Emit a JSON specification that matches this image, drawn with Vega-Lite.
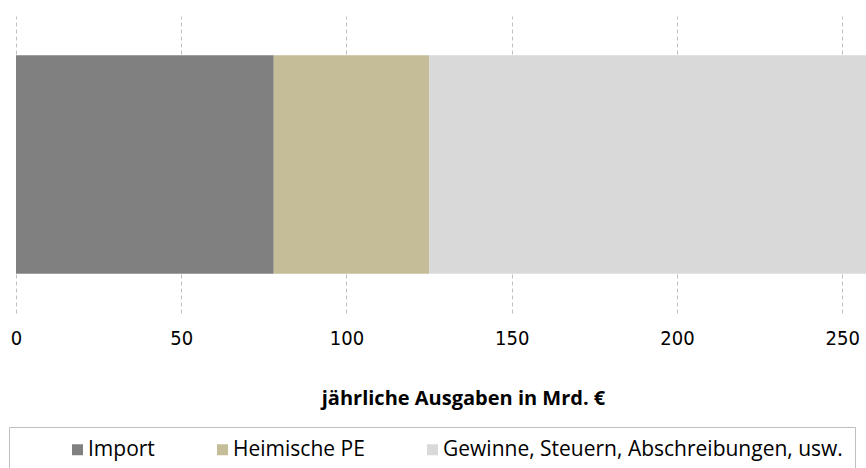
{
  "$schema": "https://vega.github.io/schema/vega-lite/v6.json",
  "width": 850,
  "height": 297,
  "autosize": "none",
  "padding": {"left": 16, "top": 16, "right": 0, "bottom": 155},
  "config": {"view": {"stroke": null}, "font": "Open Sans"},
  "data": {
    "values": [
      {"kategorie": "Ausgaben", "typ": "Import", "wert": 78, "ord": 1},
      {"kategorie": "Ausgaben", "typ": "Heimische PE", "wert": 47, "ord": 2},
      {"kategorie": "Ausgaben", "typ": "Gewinne, Steuern, Abschreibungen, usw.", "wert": 135, "ord": 3}
    ]
  },
  "mark": {"type": "bar", "clip": true},
  "encoding": {
    "y": {"field": "kategorie", "type": "nominal", "axis": null, "scale": {"paddingInner": 0, "paddingOuter": 0.18}},
    "x": {
      "field": "wert",
      "type": "quantitative",
      "stack": "zero",
      "scale": {"domain": [0, 257.2], "nice": false},
      "axis": {
        "title": "jährliche Ausgaben in Mrd. €",
        "values": [0, 50, 100, 150, 200, 250],
        "domain": false,
        "ticks": false,
        "grid": true,
        "gridDash": [4, 3],
        "gridColor": "#bfbfbf",
        "labelFont": "DejaVu Sans Condensed, Open Sans",
        "labelFontSize": 20,
        "labelColor": "#000000",
        "labelPadding": 15,
        "labelFlush": false,
        "titleFontSize": 20,
        "titleFontWeight": "bold",
        "titleColor": "#000000",
        "titlePadding": 40,
        "titleX": 447
      }
    },
    "color": {
      "field": "typ",
      "type": "nominal",
      "scale": {
        "domain": ["Import", "Heimische PE", "Gewinne, Steuern, Abschreibungen, usw."],
        "range": ["#808080", "#c4bd97", "#d9d9d9"]
      },
      "legend": {
        "orient": "none",
        "legendX": -7,
        "legendY": 411,
        "direction": "horizontal",
        "title": " ",
        "titleOrient": "left",
        "titlePadding": 46,
        "strokeColor": "#bfbfbf",
        "padding": 12,
        "symbolType": "square",
        "symbolSize": 121,
        "symbolStrokeWidth": 0,
        "labelFontSize": 21,
        "labelColor": "#000000",
        "labelOffset": 0,
        "columnPadding": 57,
        "labelLimit": 600
      }
    },
    "order": {"field": "ord"}
  }
}
